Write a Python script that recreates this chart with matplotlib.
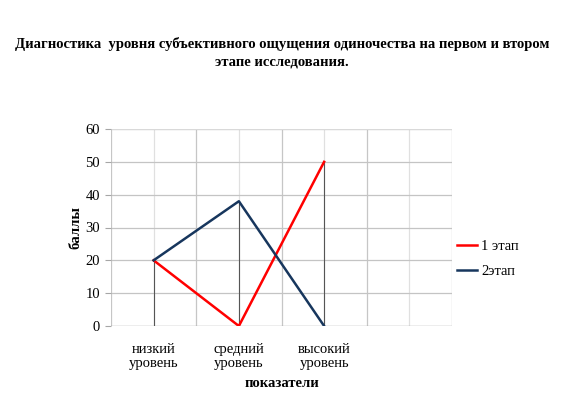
import matplotlib
matplotlib.use("Agg")
import matplotlib.pyplot as plt

categories = ["низкий\nуровень", "средний\nуровень", "высокий\nуровень"]
cat_pos = [1, 3, 5]
series1 = [20, 0, 50]
series2 = [20, 38, 0]
labels = ["1 этап", "2этап"]
title = "Диагностика  уровня субъективного ощущения одиночества на первом и втором\nэтапе исследования."

plt.rcParams['font.family'] = ['Liberation Serif', 'DejaVu Serif']

fig = plt.figure(figsize=(5.64, 4.08), dpi=100)
ax = fig.add_axes([111/564, 1-326/408, (452-111)/564, (326-129)/408])

ax.set_xlim(0, 8)
ax.set_ylim(0, 60)
ax.set_yticks(range(0, 61, 10))
ax.set_xticks([0, 2, 4, 6, 8], minor=False)
ax.set_xticks(cat_pos, minor=True)

for x in [0, 2, 4, 6, 8]:
    ax.axvline(x, color="#c6c6c6", lw=0.9, zorder=1)
for x in [1, 3, 5, 7]:
    ax.axvline(x, color="#e0e0e0", lw=0.9, zorder=1)
for y in range(10, 61, 10):
    ax.axhline(y, color="#c4c4c4", lw=0.9, zorder=1)
ax.axhline(60, color="#d9d9d9", lw=1.5, zorder=1)

# drop lines
for xp, a, b in zip(cat_pos, series1, series2):
    ax.plot([xp, xp], [0, max(a, b)], color="#555555", lw=0.8, zorder=2)

ax.plot(cat_pos, series1, color="#ff0000", lw=1.8, label=labels[0], zorder=3)
ax.plot(cat_pos, series2, color="#17365d", lw=1.8, label=labels[1], zorder=3)

for s in ax.spines.values():
    s.set_visible(False)
ax.axhline(0, color="#a6a6a6", lw=1.0, zorder=1)

ax.tick_params(axis="y", which="major", length=4, color="#a6a6a6", labelsize=10.5, pad=4)
ax.tick_params(axis="x", which="major", length=0, labelbottom=False)
ax.tick_params(axis="x", which="minor", length=0, labelsize=10.5, pad=12)
ax.set_xticklabels(categories, minor=True)
for t in ax.get_xticklabels(minor=True):
    t.set_linespacing(1.1)

ax.set_xlabel("показатели", fontsize=10.5, fontweight="bold", labelpad=5)
ax.set_ylabel("баллы", fontsize=10.5, fontweight="bold", labelpad=2)

fig.text(0.5, 1-52.5/408, title, ha="center", va="center", fontsize=10.5,
         fontweight="bold", linespacing=1.4)

leg = ax.legend(loc="center left", bbox_to_anchor=(0.975, 0.34), frameon=False,
                fontsize=10.5, handlelength=1.4, handletextpad=0.3, labelspacing=0.85)

fig.savefig("out.png", dpi=100)
